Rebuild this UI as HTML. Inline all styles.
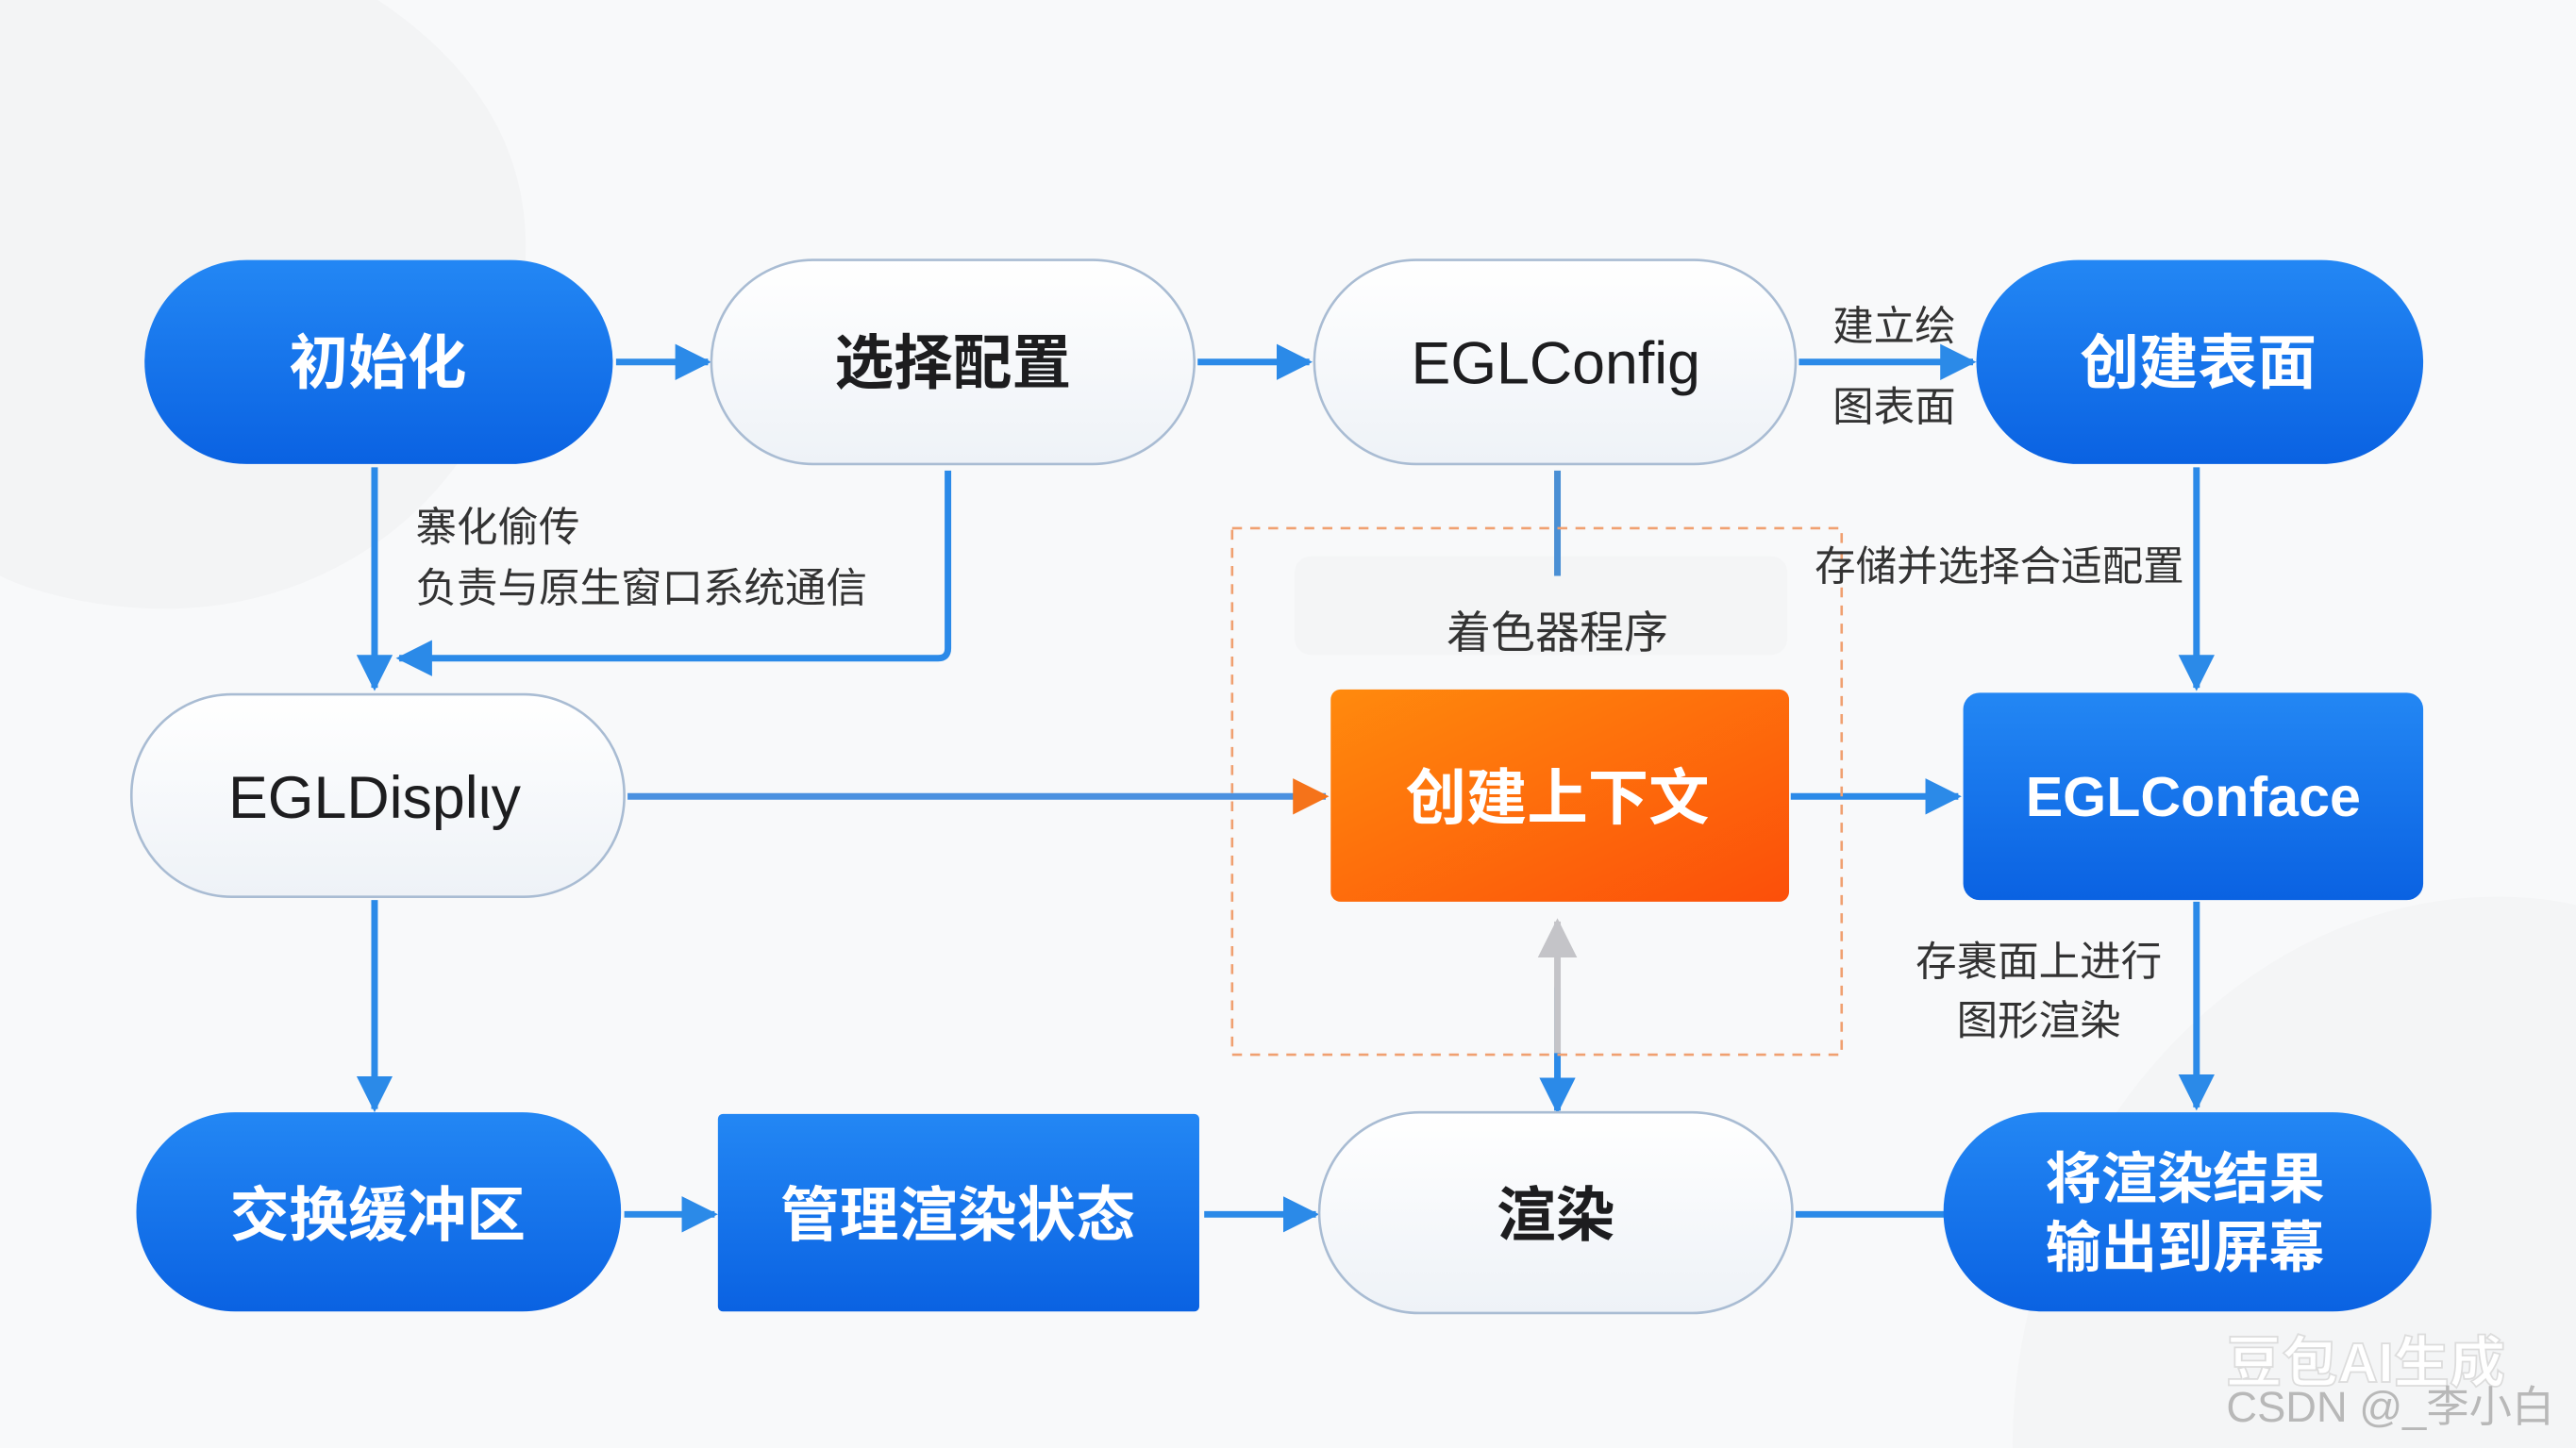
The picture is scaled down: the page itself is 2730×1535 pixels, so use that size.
<!DOCTYPE html>
<html><head><meta charset="utf-8"><style>
html,body{margin:0;padding:0;background:#f7f8fa;width:2730px;height:1535px;overflow:hidden;position:relative;}
svg{display:block;position:absolute;left:0;top:0;overflow:hidden;}
text{font-family:"Liberation Sans","Noto Sans CJK SC",sans-serif;}
</style></head><body>
<svg width="2730" height="1535" viewBox="0 0 1568 880" preserveAspectRatio="none" xmlns="http://www.w3.org/2000/svg">
<defs>
<linearGradient id="bl" x1="0" y1="0" x2="0" y2="1"><stop offset="0" stop-color="#2387f4"/><stop offset="1" stop-color="#0a62e2"/></linearGradient>
<linearGradient id="or" x1="0" y1="0" x2="1" y2="1"><stop offset="0" stop-color="#ff8a0d"/><stop offset="1" stop-color="#fc4f0a"/></linearGradient>
<linearGradient id="wh" x1="0" y1="0" x2="0" y2="1"><stop offset="0" stop-color="#ffffff"/><stop offset="1" stop-color="#eef2f7"/></linearGradient>
<marker id="ab2" markerWidth="22" markerHeight="22" refX="20" refY="11" orient="auto" markerUnits="userSpaceOnUse"><path d="M0,0 L22,11 L0,22z" fill="#2b8ae8"/></marker>
<marker id="ao" markerWidth="22" markerHeight="22" refX="20" refY="11" orient="auto" markerUnits="userSpaceOnUse"><path d="M0,0 L22,11 L0,22z" fill="#f5731a"/></marker>
<marker id="ag" markerWidth="24" markerHeight="24" refX="22" refY="12" orient="auto" markerUnits="userSpaceOnUse"><path d="M0,0 L24,12 L0,24z" fill="#c4c4c8"/></marker>
</defs>
<rect width="1568" height="880" fill="#f8f9fa"/>
<path d="M0,0 H230 C290,40 320,90 320,150 C320,280 220,370 100,370 C60,370 20,360 0,350 Z" fill="#f3f4f5"/>
<path d="M1225,880 C1225,700 1360,545 1520,545 C1540,545 1555,547 1568,550 V880 Z" fill="#f4f5f6"/>
<rect x="788" y="338" width="300" height="60" fill="#f4f5f6" rx="10"/>

<g stroke="#2b8ae8" stroke-width="4" fill="none" marker-end="url(#ab2)">
<line x1="375" y1="220" x2="431" y2="220"/>
<line x1="729" y1="220" x2="797" y2="220"/>
<line x1="1095" y1="220" x2="1201" y2="220"/>
<line x1="228" y1="284" x2="228" y2="418"/>
<path d="M577,286 V394 Q577,400 571,400 H243"/>
<line x1="1337" y1="284" x2="1337" y2="418"/>
<line x1="1090" y1="484" x2="1192" y2="484"/>
<line x1="1337" y1="548" x2="1337" y2="673"/>
<line x1="228" y1="547" x2="228" y2="674"/>
<line x1="380" y1="738" x2="435" y2="738"/>
<line x1="733" y1="738" x2="801" y2="738"/>
<line x1="948" y1="600" x2="948" y2="675"/>
</g>
<line x1="1093" y1="738" x2="1185" y2="738" stroke="#2b8ae8" stroke-width="4"/>
<line x1="948" y1="286" x2="948" y2="350" stroke="#4a8fd4" stroke-width="4"/>
<line x1="382" y1="484" x2="807" y2="484" stroke="#4b91e0" stroke-width="4" marker-end="url(#ao)"/>
<line x1="948" y1="640" x2="948" y2="560" stroke="#c4c4c8" stroke-width="4" marker-end="url(#ag)"/>
<rect x="750" y="321" width="371" height="320" fill="none" stroke="#f0a070" stroke-width="1.5" stroke-dasharray="6,5"/>

<rect x="88" y="158" width="285" height="124" rx="62" fill="url(#bl)"/>
<rect x="433" y="158" width="294" height="124" rx="62" fill="url(#wh)" stroke="#a9bcd3" stroke-width="1.5"/>
<rect x="800" y="158" width="293" height="124" rx="62" fill="url(#wh)" stroke="#a9bcd3" stroke-width="1.5"/>
<rect x="1203" y="158" width="272" height="124" rx="62" fill="url(#bl)"/>
<rect x="80" y="422" width="300" height="123" rx="61" fill="url(#wh)" stroke="#a9bcd3" stroke-width="1.5"/>
<rect x="810" y="419" width="279" height="129" rx="6" fill="url(#or)"/>
<rect x="1195" y="421" width="280" height="126" rx="10" fill="url(#bl)"/>
<rect x="83" y="676" width="295" height="121" rx="60" fill="url(#bl)"/>
<rect x="437" y="677" width="293" height="120" rx="3" fill="url(#bl)"/>
<rect x="803" y="676" width="288" height="122" rx="61" fill="url(#wh)" stroke="#a9bcd3" stroke-width="1.5"/>
<rect x="1183" y="676" width="297" height="121" rx="60" fill="url(#bl)"/>

<g text-anchor="middle" font-size="36" font-weight="bold" fill="#fff">
<text x="230" y="233">初始化</text>
<text x="1338" y="233">创建表面</text>
<text x="948" y="498" font-size="37">创建上下文</text>
<text x="1335" y="496" font-size="34">EGLConface</text>
<text x="230" y="751">交换缓冲区</text>
<text x="583" y="751">管理渲染状态</text>
<text x="1330" y="728" font-size="34">将渲染结果</text>
<text x="1330" y="770" font-size="34">输出到屏幕</text>
</g>
<g text-anchor="middle" font-size="36" fill="#1d1d1f">
<text x="580" y="233" font-weight="bold">选择配置</text>
<text x="947" y="233">EGLConfig</text>
<text x="228" y="497">EGLDisplιy</text>
<text x="947" y="751" font-weight="bold">渲染</text>
</g>
<g font-size="25" fill="#333">
<text x="1153" y="207" text-anchor="middle">建立绘</text>
<text x="1153" y="256" text-anchor="middle">图表面</text>
<text x="253" y="329">寨化偷传</text>
<text x="253" y="366">负责与原生窗口系统通信</text>
<text x="948" y="394" text-anchor="middle" font-size="27">着色器程序</text>
<text x="1217" y="353" text-anchor="middle">存储并选择合适配置</text>
<text x="1241" y="593" text-anchor="middle">存裹面上进行</text>
<text x="1241" y="629" text-anchor="middle">图形渲染</text>
</g>
<text x="1440" y="840" text-anchor="middle" font-size="34" font-weight="bold" fill="#ffffff" stroke="#dcdcdc" stroke-width="1">豆包AI生成</text>
<text x="1455" y="864" text-anchor="middle" font-size="26" fill="#b8b8b8">CSDN @_李小白</text>
</svg>
</body></html>
